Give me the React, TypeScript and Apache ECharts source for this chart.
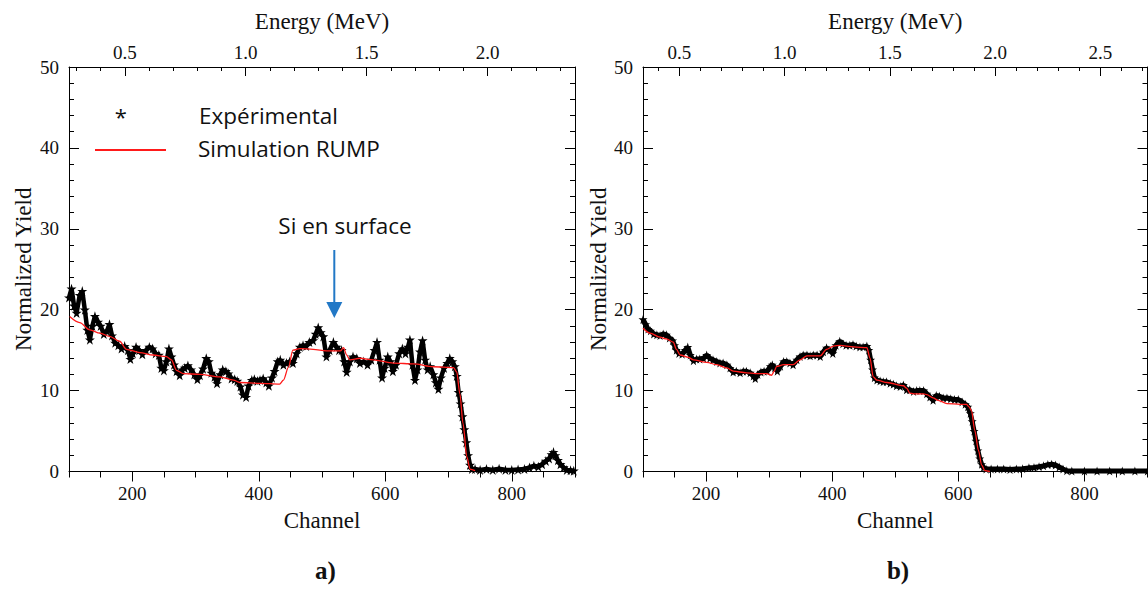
import React, { useEffect, useRef } from "react";
import * as echarts from "echarts";

// ---- Panel a) : [channel, normalized yield] ----
const expA: [number, number][] = [
  [100, 21.5], [104, 22.6], [108, 20.5], [112, 19.6], [117, 21.8], [121, 22.3], [125, 20.0],
  [129, 17.5], [133, 16.3], [137, 18.0], [141, 19.2], [146, 18.5], [150, 18.0], [155, 17.0],
  [160, 17.4], [164, 18.2], [168, 16.8], [173, 15.9], [178, 15.6], [183, 15.2], [188, 15.5],
  [193, 15.0], [197, 13.9], [201, 14.6], [206, 15.4], [211, 15.0], [216, 14.5], [222, 15.0],
  [227, 15.4], [232, 15.2], [237, 14.6], [242, 14.4], [246, 12.8], [250, 12.5], [254, 13.6],
  [258, 15.2], [262, 14.2], [266, 13.2], [270, 12.4], [275, 11.9], [279, 12.6], [283, 12.8],
  [288, 13.1], [293, 12.6], [298, 12.0], [303, 11.4], [307, 11.9], [312, 12.7], [317, 14.0],
  [321, 13.6], [325, 12.2], [330, 11.7], [334, 10.9], [339, 12.0], [343, 12.6], [348, 12.4],
  [352, 12.1], [357, 11.5], [362, 11.4], [366, 11.2], [371, 10.5], [375, 9.5], [380, 9.2],
  [384, 10.6], [389, 11.3], [393, 11.4], [398, 11.2], [402, 11.3], [407, 11.5], [412, 11.0],
  [416, 10.6], [421, 11.6], [425, 12.4], [430, 13.6], [434, 13.8], [439, 13.2], [444, 13.4],
  [449, 13.6], [454, 13.4], [460, 14.6], [465, 15.4], [470, 15.6], [475, 15.5], [480, 16.0],
  [486, 16.2], [490, 17.0], [494, 17.8], [498, 17.2], [502, 16.7], [507, 14.2], [512, 15.0],
  [518, 16.0], [523, 15.4], [527, 15.0], [531, 15.0], [535, 13.6], [539, 12.3], [544, 13.6],
  [549, 14.2], [555, 14.0], [560, 13.4], [566, 13.6], [572, 13.2], [578, 13.8], [583, 15.0],
  [587, 16.0], [591, 13.8], [595, 11.6], [599, 12.8], [604, 14.2], [608, 13.6], [612, 12.4],
  [617, 13.2], [622, 14.6], [627, 15.2], [632, 14.6], [636, 15.4], [639, 16.3], [643, 13.2],
  [647, 11.3], [651, 12.6], [655, 14.8], [659, 16.2], [663, 13.8], [667, 12.6], [671, 13.0],
  [676, 12.0], [680, 11.0], [684, 10.2], [688, 11.6], [693, 12.8], [698, 13.4], [702, 14.0],
  [706, 13.6], [710, 13.0], [713, 11.8], [716, 9.8], [719, 8.4], [722, 6.8], [725, 5.2],
  [728, 3.6], [731, 2.0], [734, 0.8], [737, 0.3], [742, 0.3], [750, 0.2], [760, 0.3],
  [770, 0.2], [780, 0.35], [790, 0.2], [800, 0.2], [810, 0.25], [820, 0.3], [828, 0.5],
  [835, 0.7], [842, 0.6], [848, 0.9], [854, 1.3], [859, 1.6], [863, 2.1], [866, 2.4],
  [869, 2.0], [873, 1.4], [877, 0.9], [882, 0.5], [887, 0.2], [893, 0.15], [898, 0.1],
];

const simA: [number, number][] = [
  [101, 19.15], [117, 18.4], [133, 17.5], [149, 17.1], [164, 16.7], [180, 16.1], [191, 15.1],
  [212, 14.7], [233, 14.4], [254, 14.2], [262, 13.8], [270, 12.5], [281, 12.1], [307, 12.0],
  [338, 11.7], [360, 11.3], [370, 11.0], [402, 10.9], [433, 10.8], [439, 11.3], [447, 12.9],
  [454, 15.0], [465, 15.2], [486, 15.1], [507, 14.9], [529, 14.9], [534, 15.3], [539, 14.4],
  [544, 13.8], [560, 14.0], [581, 13.8], [613, 13.4], [645, 13.3], [676, 12.95], [708, 12.85],
  [713, 12.3], [718, 9.6], [723, 5.9], [729, 1.8], [734, 0.3], [742, 0.1],
];

// ---- Panel b) : [channel, normalized yield] ----
const expB: [number, number][] = [
  [100, 18.8], [104, 18.2], [108, 17.6], [112, 17.4], [117, 17.0], [122, 16.9], [127, 16.8],
  [132, 17.0], [137, 16.9], [142, 16.5], [147, 16.2], [150, 15.6], [153, 15.0], [157, 14.6],
  [162, 14.5], [167, 15.0], [171, 15.4], [175, 14.4], [180, 13.7], [185, 13.9], [190, 13.9],
  [196, 14.0], [201, 14.4], [206, 14.0], [211, 13.8], [217, 13.6], [222, 13.4], [227, 13.4],
  [233, 13.2], [238, 12.8], [243, 12.3], [248, 12.4], [254, 12.2], [259, 12.4], [264, 12.4],
  [270, 12.2], [275, 11.8], [278, 11.5], [282, 12.0], [287, 12.3], [292, 12.4], [297, 12.4],
  [302, 13.0], [305, 13.2], [309, 12.8], [313, 12.4], [318, 13.0], [323, 13.6], [328, 13.6],
  [333, 13.4], [338, 13.2], [344, 13.8], [349, 14.2], [354, 14.4], [360, 14.4], [365, 14.3],
  [370, 14.4], [376, 14.4], [381, 14.2], [386, 14.8], [391, 15.3], [396, 15.0], [401, 14.6],
  [406, 15.6], [412, 16.1], [417, 15.8], [422, 15.6], [428, 15.6], [433, 15.7], [438, 15.5],
  [444, 15.4], [449, 15.4], [455, 15.5], [458, 15.0], [461, 13.8], [464, 12.6], [467, 11.6],
  [471, 11.3], [476, 11.2], [481, 11.1], [486, 11.1], [492, 10.9], [497, 10.8], [502, 10.6],
  [508, 10.5], [513, 10.7], [518, 10.1], [523, 10.1], [529, 9.9], [534, 10.0], [539, 10.0],
  [545, 10.0], [550, 9.6], [555, 9.2], [560, 8.8], [565, 9.4], [570, 9.3], [576, 9.1],
  [582, 9.1], [588, 9.0], [594, 8.9], [600, 8.9], [606, 8.6], [611, 8.3], [615, 8.0],
  [619, 7.2], [622, 6.2], [625, 5.0], [628, 3.8], [631, 2.6], [634, 1.6], [637, 0.9],
  [640, 0.5], [644, 0.3], [652, 0.3], [662, 0.3], [672, 0.3], [682, 0.25], [692, 0.3],
  [702, 0.35], [712, 0.45], [720, 0.5], [728, 0.6], [735, 0.7], [742, 0.85], [748, 0.9],
  [754, 0.8], [760, 0.55], [766, 0.3], [772, 0.1], [780, 0.05], [800, 0.05], [820, 0.05],
  [840, 0.05], [860, 0.05], [880, 0.05], [900, 0.05],
];

const simB: [number, number][] = [
  [100, 17.7], [111, 17.1], [127, 16.6], [137, 16.4], [148, 16.0], [153, 15.1], [159, 14.4],
  [172, 14.1], [180, 13.8], [201, 13.5], [217, 13.2], [233, 12.8], [243, 12.4], [264, 12.2],
  [278, 12.1], [296, 12.1], [304, 11.9], [308, 12.4], [312, 13.0], [323, 13.2], [338, 13.2],
  [349, 13.8], [360, 14.3], [381, 14.3], [391, 15.1], [402, 15.5], [412, 15.6], [434, 15.4],
  [455, 15.3], [460, 14.0], [465, 11.7], [471, 11.3], [487, 11.0], [513, 10.6], [518, 10.3],
  [523, 9.7], [529, 9.6], [545, 9.6], [550, 9.5], [560, 9.1], [568, 8.8], [582, 8.4],
  [603, 8.3], [613, 8.3], [617, 8.0], [621, 7.5], [626, 5.1], [632, 2.6], [637, 0.8],
  [642, 0.1], [650, 0.0],
];

// ---- Axes ----
const channelRange = [100, 900];
const yieldRange = [0, 50];
const channelLabels = [200, 400, 600, 800];
const channelMinor = [100, 150, 200, 250, 300, 350, 400, 450, 500, 550, 600, 650, 700, 750, 800, 850, 900];
const energyRangeA = [0.2691, 2.3618];
const energyLabelsA = [0.5, 1.0, 1.5, 2.0];
const energyMinorA = [0.3, 0.4, 0.5, 0.6, 0.7, 0.8, 0.9, 1.0, 1.1, 1.2, 1.3, 1.4, 1.5, 1.6, 1.7, 1.8, 1.9, 2.0, 2.1, 2.2, 2.3];
const energyRangeB = [0.3276, 2.7232];
const energyLabelsB = [0.5, 1.0, 1.5, 2.0, 2.5];
const energyMinorB = [0.4, 0.5, 0.6, 0.7, 0.8, 0.9, 1.0, 1.1, 1.2, 1.3, 1.4, 1.5, 1.6, 1.7, 1.8, 1.9, 2.0, 2.1, 2.2, 2.3, 2.4, 2.5, 2.6, 2.7];

const SERIF = "Liberation Serif";
const SANS = "Open Sans";
const INK = "#111";
const STAR = "path://M50,0 L61,35 98,35 68,57 79,91 50,70 21,91 32,57 2,35 39,35 Z";

function bottomAxes(grid: number) {
  return [
    {
      type: "value", gridIndex: grid, position: "bottom",
      min: channelRange[0], max: channelRange[1],
      name: "Channel", nameLocation: "middle", nameGap: 37,
      nameTextStyle: { fontFamily: SERIF, fontSize: 23, color: INK },
      axisLine: { show: true, lineStyle: { color: "#000", width: 1 } },
      axisTick: { show: true, inside: false, length: 10, customValues: channelLabels, lineStyle: { color: "#000" } },
      axisLabel: { show: true, customValues: channelLabels, margin: 12, fontFamily: SERIF, fontSize: 19, color: INK },
      splitLine: { show: false },
    },
    {
      type: "value", gridIndex: grid, position: "bottom",
      min: channelRange[0], max: channelRange[1],
      axisLine: { show: false },
      axisTick: { show: true, inside: false, length: 6, customValues: channelMinor, lineStyle: { color: "#000" } },
      axisLabel: { show: false },
      splitLine: { show: false },
    },
  ];
}

function topAxes(grid: number, range: number[], labels: number[], minor: number[]) {
  return [
    {
      type: "value", gridIndex: grid, position: "top",
      min: range[0], max: range[1],
      name: "Energy (MeV)", nameLocation: "middle", nameGap: 34,
      nameTextStyle: { fontFamily: SERIF, fontSize: 23, color: INK },
      axisLine: { show: true, lineStyle: { color: "#000", width: 1 } },
      axisTick: { show: true, inside: true, length: 9, customValues: labels, lineStyle: { color: "#000" } },
      axisLabel: {
        show: true, customValues: labels, margin: 5, fontFamily: SERIF, fontSize: 19, color: INK,
        formatter: (v: number) => v.toFixed(1),
      },
      splitLine: { show: false },
    },
    {
      type: "value", gridIndex: grid, position: "top",
      min: range[0], max: range[1],
      axisLine: { show: false },
      axisTick: { show: true, inside: true, length: 4, customValues: minor, lineStyle: { color: "#000" } },
      axisLabel: { show: false },
      splitLine: { show: false },
    },
  ];
}

function yAxes(grid: number, nameGap: number) {
  const common = {
    type: "value", gridIndex: grid, min: yieldRange[0], max: yieldRange[1], interval: 10,
    axisLine: { show: true, lineStyle: { color: "#000", width: 1 } },
    axisTick: { show: true, inside: true, length: 10, lineStyle: { color: "#000" } },
    minorTick: { show: true, splitNumber: 5, length: 5, lineStyle: { color: "#000" } },
    splitLine: { show: false },
    minorSplitLine: { show: false },
  };
  return [
    {
      ...common, position: "left",
      name: "Normalized Yield", nameLocation: "middle", nameGap,
      nameTextStyle: { fontFamily: SERIF, fontSize: 23, color: INK },
      axisLabel: { show: true, margin: 10, fontFamily: SERIF, fontSize: 19, color: INK },
    },
    { ...common, position: "right", axisLabel: { show: false } },
  ];
}

function expSeries(data: [number, number][], xi: number, yi: number, size: number, width: number) {
  return {
    type: "line", name: "Expérimental", data, xAxisIndex: xi, yAxisIndex: yi,
    symbol: STAR, symbolSize: size, showAllSymbol: true,
    itemStyle: { color: "#000" },
    lineStyle: { color: "#000", width },
    z: 2,
  };
}

function simSeries(data: [number, number][], xi: number, yi: number) {
  return {
    type: "line", name: "Simulation RUMP", data, xAxisIndex: xi, yAxisIndex: yi,
    symbol: "none", smooth: 0.3, smoothMonotone: "x",
    lineStyle: { color: "#ff1a1a", width: 1.3 },
    z: 3,
  };
}

export default function App() {
  const ref = useRef<HTMLDivElement>(null);

  useEffect(() => {
    if (!ref.current) return;
    const chart = echarts.init(ref.current, null, { renderer: "svg" });
    const option: any = {
      animation: false,
      backgroundColor: "#fff",
      grid: [
        { left: 69, top: 67, width: 506, height: 404.5 },
        { left: 643, top: 67, width: 504.5, height: 404.5 },
      ],
      xAxis: [
        ...bottomAxes(0),
        ...topAxes(0, energyRangeA, energyLabelsA, energyMinorA),
        ...bottomAxes(1),
        ...topAxes(1, energyRangeB, energyLabelsB, energyMinorB),
      ],
      yAxis: [...yAxes(0, 34), ...yAxes(1, 33)],
      series: [
        expSeries(expA, 0, 0, 10, 4.5),
        simSeries(simA, 0, 0),
        expSeries(expB, 4, 2, 9, 5),
        simSeries(simB, 4, 2),
      ],
      graphic: [
        // legend of panel a)
        { type: "text", x: 120.7, y: 115.5, style: { text: "*", font: `22px "${SANS}"`, fill: "#111", align: "center", verticalAlign: "middle" } },
        { type: "text", x: 199, y: 115.5, style: { text: "Expérimental", font: `22.5px "${SANS}"`, fill: "#111", verticalAlign: "middle" } },
        { type: "line", shape: { x1: 95, y1: 150, x2: 166, y2: 150 }, style: { stroke: "#ff1a1a", lineWidth: 2 } },
        { type: "text", x: 198, y: 148, style: { text: "Simulation RUMP", font: `22.5px "${SANS}"`, fill: "#111", verticalAlign: "middle" } },
        // annotation
        { type: "text", x: 345, y: 225.5, style: { text: "Si en surface", font: `22.5px "${SANS}"`, fill: "#111", align: "center", verticalAlign: "middle" } },
        { type: "line", shape: { x1: 334.3, y1: 250, x2: 334.3, y2: 304 }, style: { stroke: "#2278c6", lineWidth: 2 } },
        { type: "polygon", shape: { points: [[326.3, 302], [342.3, 302], [334.3, 318]] }, style: { fill: "#2278c6" } },
        // panel captions
        { type: "text", x: 325.5, y: 570, style: { text: "a)", font: `bold 25px "${SERIF}"`, fill: "#111", align: "center", verticalAlign: "middle" } },
        { type: "text", x: 898, y: 570, style: { text: "b)", font: `bold 25px "${SERIF}"`, fill: "#111", align: "center", verticalAlign: "middle" } },
      ],
    };
    chart.setOption(option);
    return () => chart.dispose();
  }, []);

  return (
    <div
      ref={ref}
      style={{ position: "fixed", left: 0, top: 0, width: 1148, height: 589, background: "#fff" }}
    />
  );
}
